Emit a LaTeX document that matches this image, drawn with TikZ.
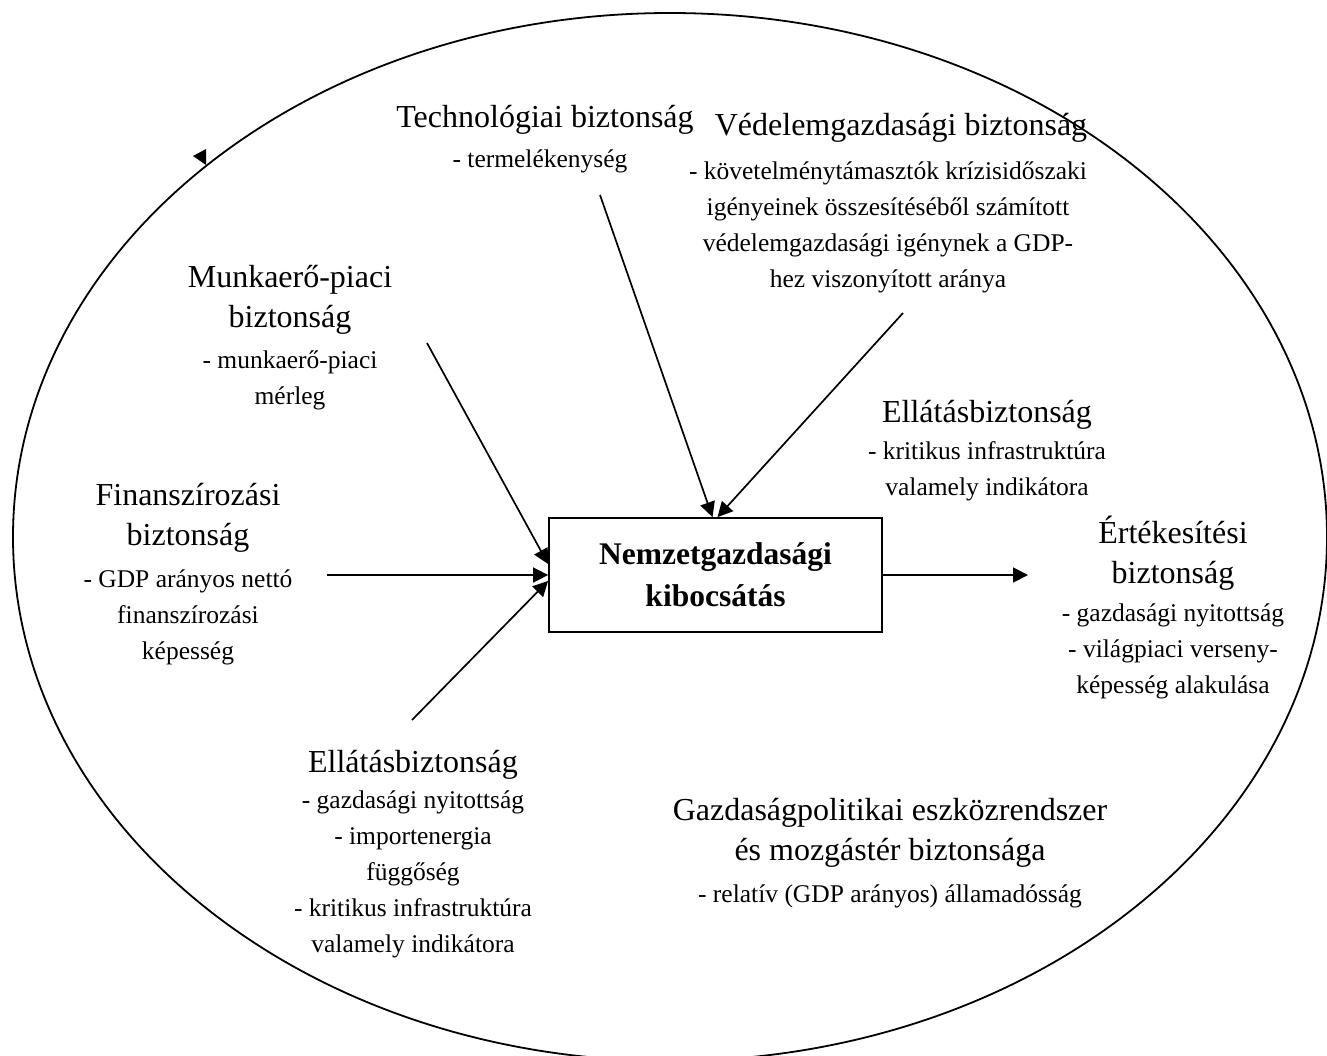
\documentclass[tikz,border=0pt]{standalone}
\usepackage{fontspec}
\setmainfont{Liberation Serif}
\usetikzlibrary{arrows.meta}
\tikzset{
	factor/.style = {align=center, inner sep=0pt, font=\fontsize{32}{40}\selectfont},
	indicator/.style = {align=center, inner sep=0pt, font=\fontsize{25.5}{36}\selectfont},
	core/.style = {draw=black, line width=1.8pt, minimum width=333pt, minimum height=114pt, align=center, font=\fontsize{31.5}{42}\selectfont\bfseries},
	link/.style = {line width=1.7pt, -{Triangle[length=15pt,width=15pt]}}
}

\begin{document}
\begin{tikzpicture}[x=1pt, y=-1pt]
\useasboundingbox (0,0) rectangle (1327,1055);
% outer frame
\draw [line width=1.8pt] (670,537) ellipse [x radius=657pt, y radius=524pt];
\fill (193,156) -- (206,149) -- (206,165) -- cycle;

% centre
\node [core] (box) at (715.5,575) {Nemzetgazdasági\\ kibocsátás};

% factors
\node [factor] (tech) at (545,120) {Technológiai biztonság};
\node [indicator] (techd) at (540,161) {- termelékenység};
\node [factor] (vedel) at (901,128) {Védelemgazdasági biztonság};
\node [indicator] (vedeld) at (888,227) {- követelménytámasztók krízisidőszaki\\ igényeinek összesítéséből számított\\ védelemgazdasági igénynek a GDP-\\ hez viszonyított aránya};
\node [factor] (munka) at (290,300) {Munkaerő-piaci\\ biztonság};
\node [indicator] (munkad) at (290,380) {- munkaerő-piaci\\ mérleg};
\node [factor] (finan) at (188,518) {Finanszírozási\\ biztonság};
\node [indicator] (finand) at (188,617) {- GDP arányos nettó\\ finanszírozási\\ képesség};
\node [factor] (ellat) at (987,415) {Ellátásbiztonság};
\node [indicator] (ellatd) at (987,471) {- kritikus infrastruktúra\\ valamely indikátora};
\node [factor] (ertek) at (1173,553) {Értékesítési\\ biztonság};
\node [indicator] (ertekd) at (1173,651) {- gazdasági nyitottság\\ - világpiaci verseny-\\ képesség alakulása};
\node [factor] (ellatb) at (413,765) {Ellátásbiztonság};
\node [indicator] (ellatbd) at (413,874) {- gazdasági nyitottság\\ - importenergia\\ függőség\\ - kritikus infrastruktúra\\ valamely indikátora};
\node [factor] (gazd) at (890,833) {Gazdaságpolitikai eszközrendszer\\ és mozgástér biztonsága};
\node [indicator] (gazdd) at (890,896) {- relatív (GDP arányos) államadósság};

% arrows
\coordinate (techs) at (600,195);
\coordinate (vedels) at (903,313);
\coordinate (munkas) at (427,343);
\coordinate (finans) at (327,575);
\coordinate (ellatbs) at (412,720);
\coordinate (ertekin) at (1028,575);
\draw [link] (techs) -- ([xshift=-3pt]box.north);
\draw [link] (vedels) -- ([xshift=2pt]box.north);
\draw [link] (munkas) -- ([yshift=11pt]box.west);
\draw [link] (finans) -- (box.west);
\draw [link] (ellatbs) -- ([yshift=-6pt]box.west);
\draw [link] (box.east) -- (ertekin);
\end{tikzpicture}
\end{document}
